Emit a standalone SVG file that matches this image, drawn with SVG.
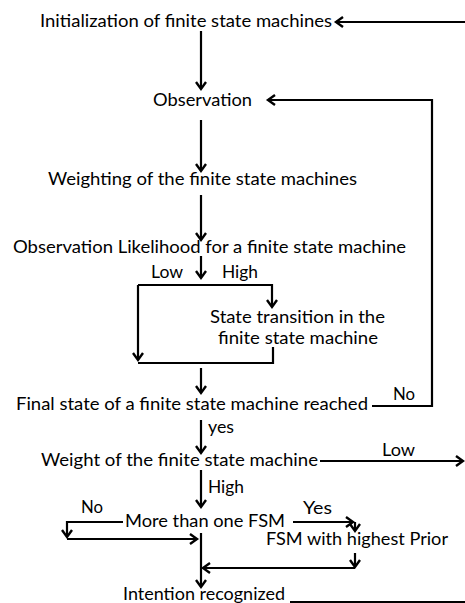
<svg xmlns="http://www.w3.org/2000/svg" width="465" height="603" viewBox="0 0 465 603">
<style>
text{font-family:Lato,"Open Sans","Liberation Sans",sans-serif;font-size:18px;fill:#000}
.c path{fill:none;stroke:#000;stroke-width:2.2}
.a{marker-end:url(#ar)}
</style>
<defs>
<marker id="ar" markerUnits="userSpaceOnUse" markerWidth="14" markerHeight="14" viewBox="-8 -7 10 14" refX="0" refY="0" orient="auto">
<path d="M-7,-5 L0,0 L-7,5" fill="none" stroke="#000" stroke-width="2.4"/>
</marker>
</defs>
<rect width="465" height="603" fill="#fff"/>
<g id="n-init"><text x="40" y="27" textLength="292" lengthAdjust="spacingAndGlyphs">Initialization of finite state machines</text></g>
<g id="n-obs"><text x="153" y="106" textLength="99" lengthAdjust="spacingAndGlyphs">Observation</text></g>
<g id="n-weighting"><text x="48" y="185" textLength="309" lengthAdjust="spacingAndGlyphs">Weighting of the finite state machines</text></g>
<g id="n-likelihood"><text x="13" y="253" textLength="393" lengthAdjust="spacingAndGlyphs">Observation Likelihood for a finite state machine</text></g>
<g id="n-transition"><text x="210" y="323" textLength="175" lengthAdjust="spacingAndGlyphs">State transition in the</text><text x="218" y="344" textLength="160" lengthAdjust="spacingAndGlyphs">finite state machine</text></g>
<g id="n-final"><text x="16" y="410" textLength="352" lengthAdjust="spacingAndGlyphs">Final state of a finite state machine reached</text></g>
<g id="n-weight"><text x="41" y="466" textLength="277" lengthAdjust="spacingAndGlyphs">Weight of the finite state machine</text></g>
<g id="n-more"><text x="125" y="527" textLength="160" lengthAdjust="spacingAndGlyphs">More than one FSM</text></g>
<g id="n-prior"><text x="266" y="545" textLength="182" lengthAdjust="spacingAndGlyphs">FSM with highest Prior</text></g>
<g id="n-intention"><text x="123" y="600" textLength="162" lengthAdjust="spacingAndGlyphs">Intention recognized</text></g>
<g id="labels">
<text x="151" y="278" textLength="32" lengthAdjust="spacingAndGlyphs">Low</text>
<text x="222" y="278" textLength="36" lengthAdjust="spacingAndGlyphs">High</text>
<text x="393" y="400" textLength="22" lengthAdjust="spacingAndGlyphs">No</text>
<text x="208" y="433" textLength="26" lengthAdjust="spacingAndGlyphs">yes</text>
<text x="382" y="456" textLength="33" lengthAdjust="spacingAndGlyphs">Low</text>
<text x="208" y="493" textLength="36" lengthAdjust="spacingAndGlyphs">High</text>
<text x="81" y="513" textLength="22" lengthAdjust="spacingAndGlyphs">No</text>
<text x="303" y="514" textLength="29" lengthAdjust="spacingAndGlyphs">Yes</text>
</g>
<g id="connectors" class="c">
<path class="a" d="M465,22 H336"/>
<path class="a" d="M201,31 V89"/>
<path class="a" d="M372,406 H432 V100 H268"/>
<path d="M201,120 V171" class="a"/>
<path class="a" d="M201,195 V240"/>
<path class="a" d="M201,256 V278"/>
<path class="a" d="M138,285 H272 V307"/>
<path class="a" d="M138,285 V360"/>
<path d="M273,347 V363 H138"/>
<path class="a" d="M201,368 V393"/>
<path class="a" d="M201,420 V453"/>
<path class="a" d="M320,461 H463"/>
<path class="a" d="M201,470 V507"/>
<path class="a" d="M123,522 H67 V537"/>
<path class="a" d="M67,539 H197"/>
<path class="a" d="M293,522 H353"/>
<path class="a" d="M355,522 V531"/>
<path class="a" d="M355,553 V567"/>
<path class="a" d="M355,568 H203"/>
<path class="a" d="M201,533 V587"/>
<path d="M290,602 H465"/>
</g>
</svg>
